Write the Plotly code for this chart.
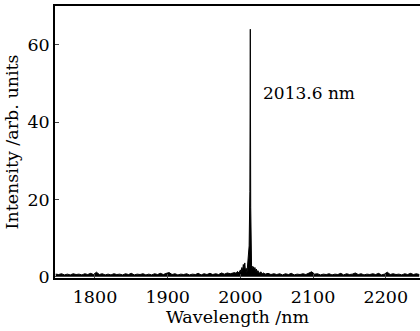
import plotly.graph_objects as go

# Baseline regions (regular wavelength grid, nm) and read intensities
wl_left = list(range(1746, 1991, 4))
int_left = [0.7,
            0.6, 0.8, 0.5, 0.7, 0.5, 0.8, 0.6, 0.7, 0.5, 0.8,
            0.6, 0.9, 0.6, 1.2, 0.6, 0.8, 0.5, 0.7, 0.5, 0.8,
            0.6, 0.7, 0.5, 0.8, 0.6, 0.9, 0.5, 0.7, 0.6, 0.8,
            0.5, 0.7, 0.5, 0.8, 0.6, 0.9, 0.6, 0.9, 1.1, 0.6,
            0.8, 0.5, 0.7, 0.6, 0.8, 0.5, 0.7, 0.6, 0.9, 0.5,
            0.8, 0.6, 0.9, 0.6, 0.8, 0.6, 1.0, 0.7, 1.0, 0.8,
            1.1]

wl_peak = [1992, 1994, 1996, 1998, 2000, 2001, 2002, 2003, 2004, 2005,
           2006, 2007, 2008, 2009, 2010, 2011, 2012, 2013, 2013.6, 2014.2,
           2015, 2015.5, 2016, 2017, 2018, 2019, 2020, 2021, 2022, 2023,
           2024, 2026, 2028, 2030, 2032]
int_peak = [1.1, 0.9, 1.4, 1.0, 1.8, 1.2, 2.4, 1.6, 3.2, 2.0,
            3.6, 1.4, 2.2, 1.0, 2.8, 4.5, 8.0, 22.0, 64.0, 18.0,
            3.5, 0.6, 2.8, 1.5, 2.6, 1.8, 2.4, 1.3, 2.0, 1.0,
            1.6, 0.9, 1.3, 0.8, 1.0]

wl_right = list(range(2034, 2247, 4))
int_right = [0.7, 0.9, 0.6, 0.8, 0.6, 0.8, 0.5, 0.8, 0.6, 0.9,
             0.5, 0.7, 0.6, 0.8, 0.6, 0.9, 1.3, 0.7, 0.8, 0.5,
             0.7, 0.6, 0.8, 0.5, 0.7, 0.6, 0.9, 0.5, 0.8, 0.6,
             0.7, 1.0, 0.6, 0.8, 0.5, 0.7, 0.6, 0.8, 0.6, 0.9,
             0.5, 0.7, 1.2, 0.6, 0.8, 0.6, 0.7, 0.5, 0.8, 0.6,
             0.9, 0.6, 0.8, 0.6]

wavelength = wl_left + wl_peak + wl_right
intensity = int_left + int_peak + int_right

y_ticks = [0, 20, 40, 60]
x_ticks = [1800, 1900, 2000, 2100, 2200]
peak_label = "2013.6 nm"

FONT = "DejaVu Serif"

fig = go.Figure()
fig.add_trace(go.Scatter(x=wavelength, y=intensity, mode="lines",
                         line=dict(color="black", width=1),
                         fill="tozeroy", fillcolor="black",
                         hoverinfo="skip", showlegend=False))

fig.add_annotation(x=2029, y=47.5, text=peak_label, showarrow=False,
                   xanchor="left", yanchor="middle",
                   font=dict(family=FONT, size=17, color="black"))

fig.update_layout(
    width=420, height=331,
    margin=dict(l=55, r=0, t=6, b=53),
    paper_bgcolor="white", plot_bgcolor="white",
    font=dict(family=FONT, size=17, color="black"),
)
fig.update_xaxes(range=[1745, 2247], tickvals=x_ticks, ticks="inside", ticklen=4,
                 showline=True, linecolor="black", linewidth=1.5, mirror=True,
                 showgrid=False, zeroline=False, ticklabelstandoff=2,
                 title=dict(text="Wavelength /nm", font=dict(family=FONT, size=17.5), standoff=0),
                 tickfont=dict(family=FONT, size=17.5))
fig.update_yaxes(range=[-0.3, 70], tickvals=y_ticks, ticks="inside", ticklen=4,
                 showline=True, linecolor="black", linewidth=1.5,
                 showgrid=False, zeroline=False,
                 title=dict(text="Intensity /arb. units", font=dict(family=FONT, size=17.5), standoff=4),
                 tickfont=dict(family=FONT, size=17.5))

fig.write_html("out.html", config={"displayModeBar": False},
               post_script="document.body.style.margin='0';")
